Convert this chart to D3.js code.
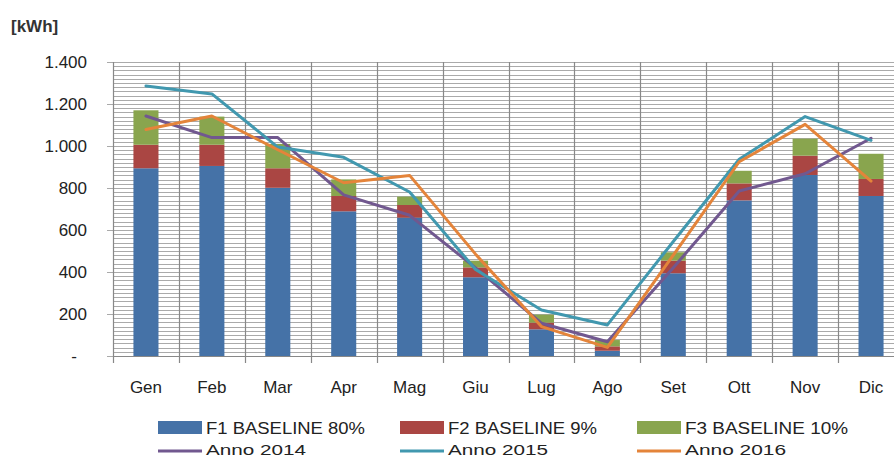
<!DOCTYPE html>
<html><head><meta charset="utf-8">
<script src="https://cdn.jsdelivr.net/npm/d3@7/dist/d3.min.js"></script>
<style>
html,body{margin:0;padding:0;background:#fff;overflow:hidden;}
svg{display:block;font-family:"Liberation Sans",Arial,sans-serif;}
</style></head>
<body>
<svg id="chart" width="894" height="459"></svg>
<script>
const months = ["Gen","Feb","Mar","Apr","Mag","Giu","Lug","Ago","Set","Ott","Nov","Dic"];
const f1 = [894,905,801,689,659,375,127,25,394,741,862,762];
const f2 = [112,101,93,73,60,47,32,21,60,81,92,81];
const f3 = [164,134,116,79,40,32,38,30,40,60,81,120];
const anno2014 = [1143,1040,1040,767,670,420,156,68,420,786,868,1037];
const anno2015 = [1286,1248,995,946,781,412,219,148,545,937,1140,1027];
const anno2016 = [1079,1143,982,825,860,485,140,41,480,925,1103,833];
const yTickValues = [0,200,400,600,800,1000,1200,1400];
const yTickLabels = ["-","200","400","600","800","1.000","1.200","1.400"];
const barNames = ["F1 BASELINE 80%","F2 BASELINE 9%","F3 BASELINE 10%"];
const lineNames = ["Anno 2014","Anno 2015","Anno 2016"];

const barColors = ["#4572A7","#AA4643","#89A54E"];
const lineColors = ["#71588F","#4198AF","#E4843A"];

const svg = d3.select("#chart");
const pL = 113, pR = 904, pT = 62, pB = 356;

const x = d3.scaleBand().domain(months).range([pL,pR]).padding(0);
const y = d3.scaleLinear().domain([0,1400]).range([pB,pT]);

// horizontal grid (every 20)
const g = svg.append("g");
g.selectAll("line.h").data(d3.range(0,1401,20)).enter().append("line")
  .attr("x1", d => d % 200 === 0 ? pL-6 : pL).attr("x2", 900)
  .attr("y1", d => Math.round(y(d))+0.5).attr("y2", d => Math.round(y(d))+0.5)
  .attr("stroke", "#aaaaaa").attr("stroke-width",1);

// vertical category boundaries
const bounds = months.map(m => x(m));
g.selectAll("line.v").data(bounds).enter().append("line")
  .attr("x1", d => Math.round(d)+0.5).attr("x2", d => Math.round(d)+0.5)
  .attr("y1", pT).attr("y2", pB+7)
  .attr("stroke","#888888").attr("stroke-width",1.2);

// bottom axis line
g.append("line").attr("x1",pL).attr("x2",900).attr("y1",Math.round(y(0))+0.5).attr("y2",Math.round(y(0))+0.5)
  .attr("stroke","#888888").attr("stroke-width",1.2);

// stacked bars
const stackData = months.map((m,i)=>({m, a:f1[i], b:f2[i], c:f3[i]}));
const stack = d3.stack().keys(["a","b","c"])(stackData);
const bw = x.bandwidth()*0.38;
svg.append("g").selectAll("g").data(stack).enter().append("g")
  .attr("fill",(d,i)=>barColors[i])
  .selectAll("rect").data(d=>d).enter().append("rect")
  .attr("x", d => x(d.data.m) + x.bandwidth()/2 - bw/2)
  .attr("width", bw)
  .attr("y", d => y(d[1]))
  .attr("height", d => y(d[0]) - y(d[1]));

// lines
const lineGen = d3.line().x((d,i)=>x(months[i])+x.bandwidth()/2).y(d=>y(d));
[anno2014, anno2015, anno2016].forEach((s,k)=>{
  svg.append("path").datum(s).attr("d",lineGen)
    .attr("fill","none").attr("stroke",lineColors[k]).attr("stroke-width",3)
    .attr("stroke-linejoin","round").attr("stroke-linecap","round");
});

// y axis labels
svg.append("g").selectAll("text").data(yTickValues).enter().append("text")
  .attr("x", (d,i)=> i===0 ? 77 : 87)
  .attr("y", d => y(d)+6)
  .attr("text-anchor","end").attr("font-size",17).attr("fill","#222")
  .text((d,i)=>yTickLabels[i]);

// x axis labels
svg.append("g").selectAll("text").data(months).enter().append("text")
  .attr("x", d => x(d)+x.bandwidth()/2)
  .attr("y", 393)
  .attr("text-anchor","middle").attr("font-size",17).attr("fill","#222")
  .text(d=>d);

// unit
svg.append("text").attr("x",11).attr("y",32).attr("font-size",17).attr("font-weight","bold")
  .attr("fill","#333").text("[kWh]");

// legend
const legX = [158,400,637];
const barTextW = [159,149,163];
const lineTextW = [100,100,101];
barNames.forEach((n,i)=>{
  svg.append("rect").attr("x",legX[i]).attr("y",421).attr("width",44).attr("height",13).attr("fill",barColors[i]);
  svg.append("text").attr("x",legX[i]+48).attr("y",434).attr("font-size",16).attr("fill","#222")
    .attr("textLength",barTextW[i]).attr("lengthAdjust","spacingAndGlyphs").text(n);
});
lineNames.forEach((n,i)=>{
  svg.append("line").attr("x1",legX[i]).attr("x2",legX[i]+44).attr("y1",451).attr("y2",451)
    .attr("stroke",lineColors[i]).attr("stroke-width",3);
  svg.append("text").attr("x",legX[i]+48).attr("y",455).attr("font-size",15).attr("fill","#222")
    .attr("textLength",lineTextW[i]).attr("lengthAdjust","spacingAndGlyphs").text(n);
});
</script>
</body></html>
